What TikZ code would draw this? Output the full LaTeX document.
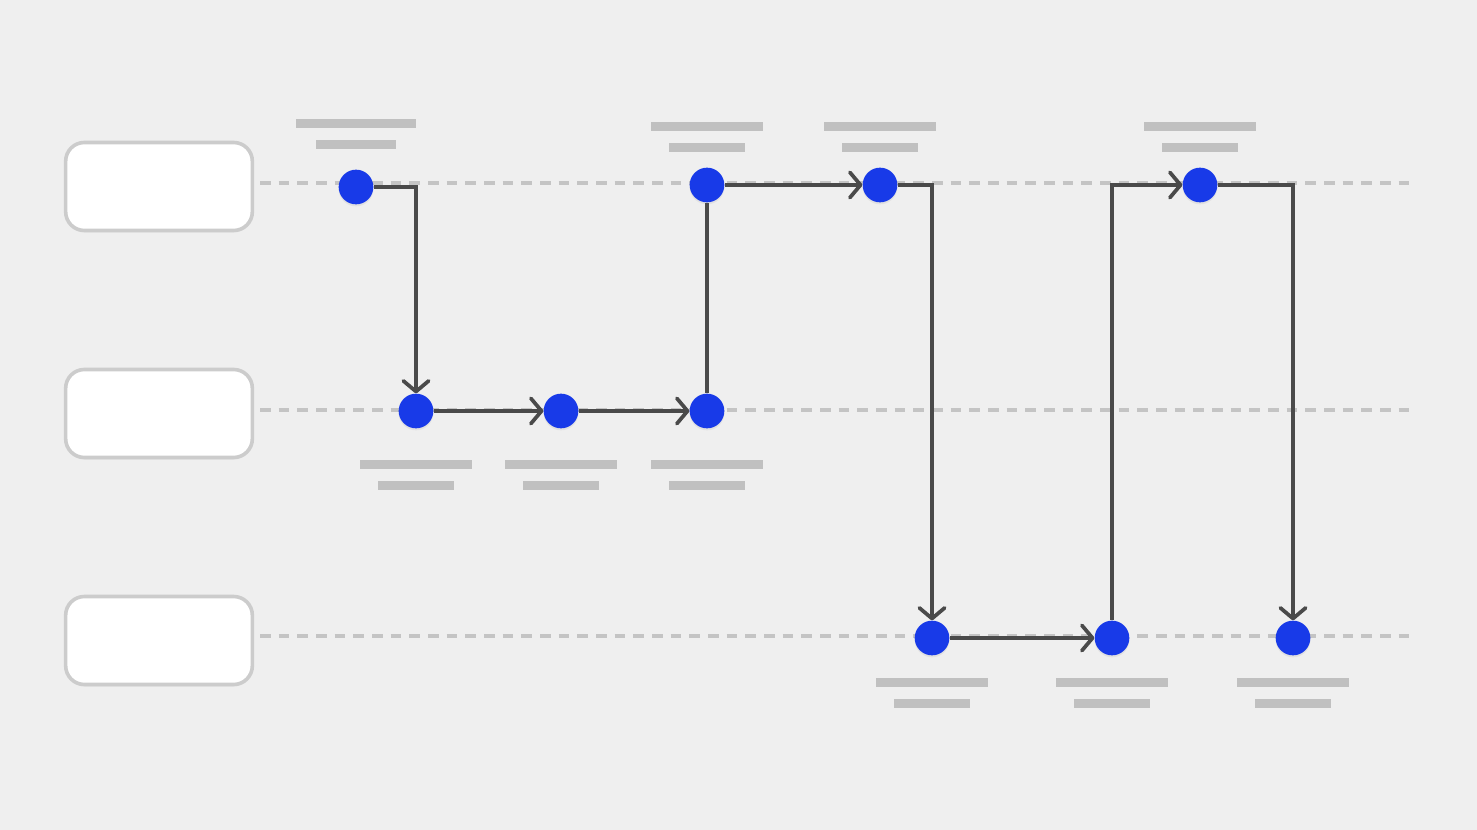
\documentclass[tikz,border=0pt]{standalone}
\usetikzlibrary{arrows.meta,shadows}
\definecolor{bg}{RGB}{239,239,239}
\definecolor{lanegray}{RGB}{196,196,196}
\definecolor{bargray}{RGB}{192,192,192}
\definecolor{boxgray}{RGB}{204,204,204}
\definecolor{flowgray}{RGB}{74,74,74}
\definecolor{dotblue}{RGB}{24,58,232}
\begin{document}
\begin{tikzpicture}[x=0.75pt,y=-0.75pt,
  lane/.style={draw=lanegray, line width=2.7pt, dash pattern=on 8pt off 6pt},
  dot/.style={circle, fill=dotblue, minimum size=26pt, inner sep=0pt,
    drop shadow={opacity=0.12, shadow xshift=0pt, shadow yshift=-1.5pt}},
  flow/.style={draw=flowgray, line width=2.8pt},
  arr/.style={flow, -{Straight Barb[length=8pt,width=19pt,round]}},
  bar/.style={fill=bargray, inner sep=0pt, minimum height=6.9pt},
  wbar/.style={bar, minimum width=84.5pt},
  nbar/.style={bar, minimum width=57pt},
  lanebox/.style={draw=boxgray, fill=white, line width=2.7pt, rounded corners=14pt,
    minimum width=140pt, minimum height=66pt, inner sep=0pt,
    drop shadow={opacity=0.08, shadow xshift=0pt, shadow yshift=-1.5pt}}]
\fill[bg] (0,0) rectangle (1477,830);
\useasboundingbox (0,0) rectangle (1477,830);

% lanes
\coordinate (r1s) at (260,183); \coordinate (r1e) at (1415,183);
\coordinate (r2s) at (260,410); \coordinate (r2e) at (1415,410);
\coordinate (r3s) at (260,636); \coordinate (r3e) at (1415,636);
\draw[lane] (r1s) -- (r1e);
\draw[lane] (r2s) -- (r2e);
\draw[lane] (r3s) -- (r3e);

% lane boxes
\node[lanebox] (b1) at (159,186.5) {};
\node[lanebox] (b2) at (159,413.5) {};
\node[lanebox] (b3) at (159,640.5) {};

% dots
\node[dot] (d1) at (356,187) {};
\node[dot] (d2) at (416,411) {};
\node[dot] (d3) at (561,411) {};
\node[dot] (d4) at (707,411) {};
\node[dot] (d5) at (707,185) {};
\node[dot] (d6) at (880,185) {};
\node[dot] (d7) at (932,638) {};
\node[dot] (d8) at (1112,638) {};
\node[dot] (d9) at (1200,185) {};
\node[dot] (d10) at (1293,638) {};

% label bars
\node[bar, minimum width=90pt] (l1a) at (356,123.5) {};
\node[bar, minimum width=60pt] (l1b) at (356,144.5) {};
\node[wbar] (l2a) at (416,464.5) {};
\node[nbar] (l2b) at (416,485.5) {};
\node[wbar] (l3a) at (561,464.5) {};
\node[nbar] (l3b) at (561,485.5) {};
\node[wbar] (l4a) at (707,464.5) {};
\node[nbar] (l4b) at (707,485.5) {};
\node[wbar] (l5a) at (707,126.5) {};
\node[nbar] (l5b) at (707,147.5) {};
\node[wbar] (l6a) at (880,126.5) {};
\node[nbar] (l6b) at (880,147.5) {};
\node[wbar] (l7a) at (932,682.5) {};
\node[nbar] (l7b) at (932,703.5) {};
\node[wbar] (l8a) at (1112,682.5) {};
\node[nbar] (l8b) at (1112,703.5) {};
\node[wbar] (l9a) at (1200,126.5) {};
\node[nbar] (l9b) at (1200,147.5) {};
\node[wbar] (l10a) at (1293,682.5) {};
\node[nbar] (l10b) at (1293,703.5) {};

% connectors
\draw[arr] (d1) -| (d2);
\draw[arr] (d2) -- (d3);
\draw[arr] (d3) -- (d4);
\draw[flow] (d4) -- (d5);
\draw[arr] (d5) -- (d6);
\draw[arr] (d6) -| (d7);
\draw[arr] (d7) -- (d8);
\draw[arr] (d8) |- (d9);
\draw[arr] (d9) -| (d10);
\end{tikzpicture}
\end{document}
